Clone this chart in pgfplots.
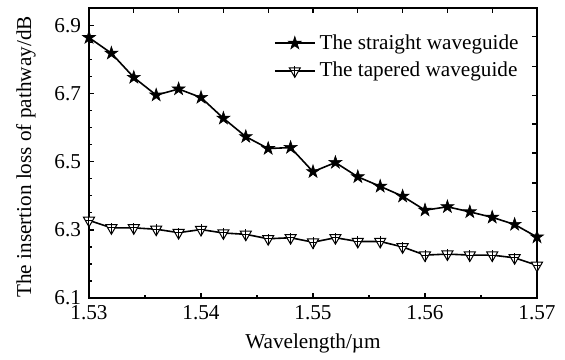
\documentclass[border=0pt]{standalone}
\usepackage{fontspec}
\setmainfont{Liberation Serif}
\usepackage{pgfplots}
\pgfplotsset{compat=1.18}

\pgfdeclareplotmark{tricross}{%
  \pgfpathmoveto{\pgfqpoint{0pt}{-\pgfplotmarksize}}%
  \pgfpathlineto{\pgfqpoint{0.866\pgfplotmarksize}{0.5\pgfplotmarksize}}%
  \pgfpathlineto{\pgfqpoint{-0.866\pgfplotmarksize}{0.5\pgfplotmarksize}}%
  \pgfpathclose
  \pgfusepathqfillstroke
  \pgfpathmoveto{\pgfqpoint{0pt}{-\pgfplotmarksize}}%
  \pgfpathlineto{\pgfqpoint{0pt}{0.8\pgfplotmarksize}}%
  \pgfpathmoveto{\pgfqpoint{-0.65\pgfplotmarksize}{0pt}}%
  \pgfpathlineto{\pgfqpoint{0.65\pgfplotmarksize}{0pt}}%
  \pgfusepathqstroke
}
\pgfdeclareplotmark{fstar}{%
  \pgfpathmoveto{\pgfqpoint{0pt}{1\pgfplotmarksize}}%
  \pgfpathlineto{\pgfqpoint{-0.2245\pgfplotmarksize}{0.309\pgfplotmarksize}}%
  \pgfpathlineto{\pgfqpoint{-0.951\pgfplotmarksize}{0.309\pgfplotmarksize}}%
  \pgfpathlineto{\pgfqpoint{-0.3633\pgfplotmarksize}{-0.118\pgfplotmarksize}}%
  \pgfpathlineto{\pgfqpoint{-0.588\pgfplotmarksize}{-0.809\pgfplotmarksize}}%
  \pgfpathlineto{\pgfqpoint{0pt}{-0.382\pgfplotmarksize}}%
  \pgfpathlineto{\pgfqpoint{0.588\pgfplotmarksize}{-0.809\pgfplotmarksize}}%
  \pgfpathlineto{\pgfqpoint{0.3633\pgfplotmarksize}{-0.118\pgfplotmarksize}}%
  \pgfpathlineto{\pgfqpoint{0.951\pgfplotmarksize}{0.309\pgfplotmarksize}}%
  \pgfpathlineto{\pgfqpoint{0.2245\pgfplotmarksize}{0.309\pgfplotmarksize}}%
  \pgfpathclose
  \pgfusepathqfillstroke
}

\begin{document}
\begin{tikzpicture}
\begin{axis}[
  name=main,
  width=224pt, height=145pt, scale only axis,
  xmin=1.53, xmax=1.57, ymin=6.1, ymax=6.952,
  xtick={1.53,1.54,1.55,1.56,1.57},
  ytick={6.1,6.3,6.5,6.7,6.9},
  minor x tick num=1, minor y tick num=3,
  xtick pos=bottom, ytick pos=left,
  major tick length=2.5pt, minor tick length=1.6pt,
  tick style={black, line width=0.6pt},
  axis line style={line width=0.9pt},
  /pgf/number format/assume math mode=true,
  x tick label style={/pgf/number format/.cd, fixed, fixed zerofill, precision=2},
  y tick label style={xshift=-0.5pt, /pgf/number format/.cd, fixed, fixed zerofill, precision=1},
  scaled x ticks=false,
  font=\fontsize{10.6}{12.5}\selectfont,
  xlabel={Wavelength/\textmu m},
  ylabel={The insertion loss of pathway/dB},
  xlabel style={yshift=-0.5pt},
  ylabel style={yshift=2.5pt, xshift=-2pt},
  legend style={at={(rel axis cs:1,1)}, anchor=north east, xshift=-6pt, yshift=-10pt,
    draw=none, fill=none, row sep=1pt, inner sep=1pt,
    font=\fontsize{10.6}{12.5}\selectfont},
  legend cell align=left,
  legend image code/.code={
    \draw[#1, mark repeat=2, mark phase=2] plot coordinates {(0pt,0pt) (10pt,0pt) (20pt,0pt)};
  },
]
\addplot[black, line width=0.8pt, mark=fstar, mark size=3.4pt,
  mark options={solid, fill=black, line width=0.3pt}] coordinates {
(1.530,6.865) (1.532,6.819) (1.534,6.748) (1.536,6.696) (1.538,6.714)
(1.540,6.689) (1.542,6.628) (1.544,6.574) (1.546,6.539) (1.548,6.542)
(1.550,6.471) (1.552,6.498) (1.554,6.456) (1.556,6.428) (1.558,6.399)
(1.560,6.358) (1.562,6.368) (1.564,6.353) (1.566,6.337) (1.568,6.316)
(1.570,6.279)};
\addlegendentry{The straight waveguide}
\addplot[black, line width=0.8pt, mark=tricross, mark size=3.2pt,
  mark options={solid, fill=white, line width=0.5pt}] coordinates {
(1.530,6.328) (1.532,6.306) (1.534,6.306) (1.536,6.302) (1.538,6.292)
(1.540,6.301) (1.542,6.291) (1.544,6.287) (1.546,6.274) (1.548,6.277)
(1.550,6.264) (1.552,6.277) (1.554,6.266) (1.556,6.266) (1.558,6.250)
(1.560,6.226) (1.562,6.229) (1.564,6.226) (1.566,6.226) (1.568,6.218)
(1.570,6.196)};
\addlegendentry{The tapered waveguide}
\end{axis}
\begin{axis}[
  width=224pt, height=145pt, scale only axis,
  xmin=1.53, xmax=1.57, ymin=6.1, ymax=6.952,
  axis x line*=top, axis y line*=right,
  axis line style={draw=none},
  xtick={1.534,1.538,1.542,1.546,1.550,1.554,1.558,1.562,1.566},
  ytick={6.868,6.781,6.696,6.611,6.526,6.438,6.353},
  xticklabels={}, yticklabels={},
  major tick length=2.5pt,
  tick style={black, line width=0.6pt},
]
\end{axis}
\pgfresetboundingbox
\path (main.south west) ++(-44.5pt,-31pt) coordinate (bl);
\path (main.north east) ++(14pt,4pt) coordinate (tr);
\path (bl) rectangle (tr);
\end{tikzpicture}
\end{document}
